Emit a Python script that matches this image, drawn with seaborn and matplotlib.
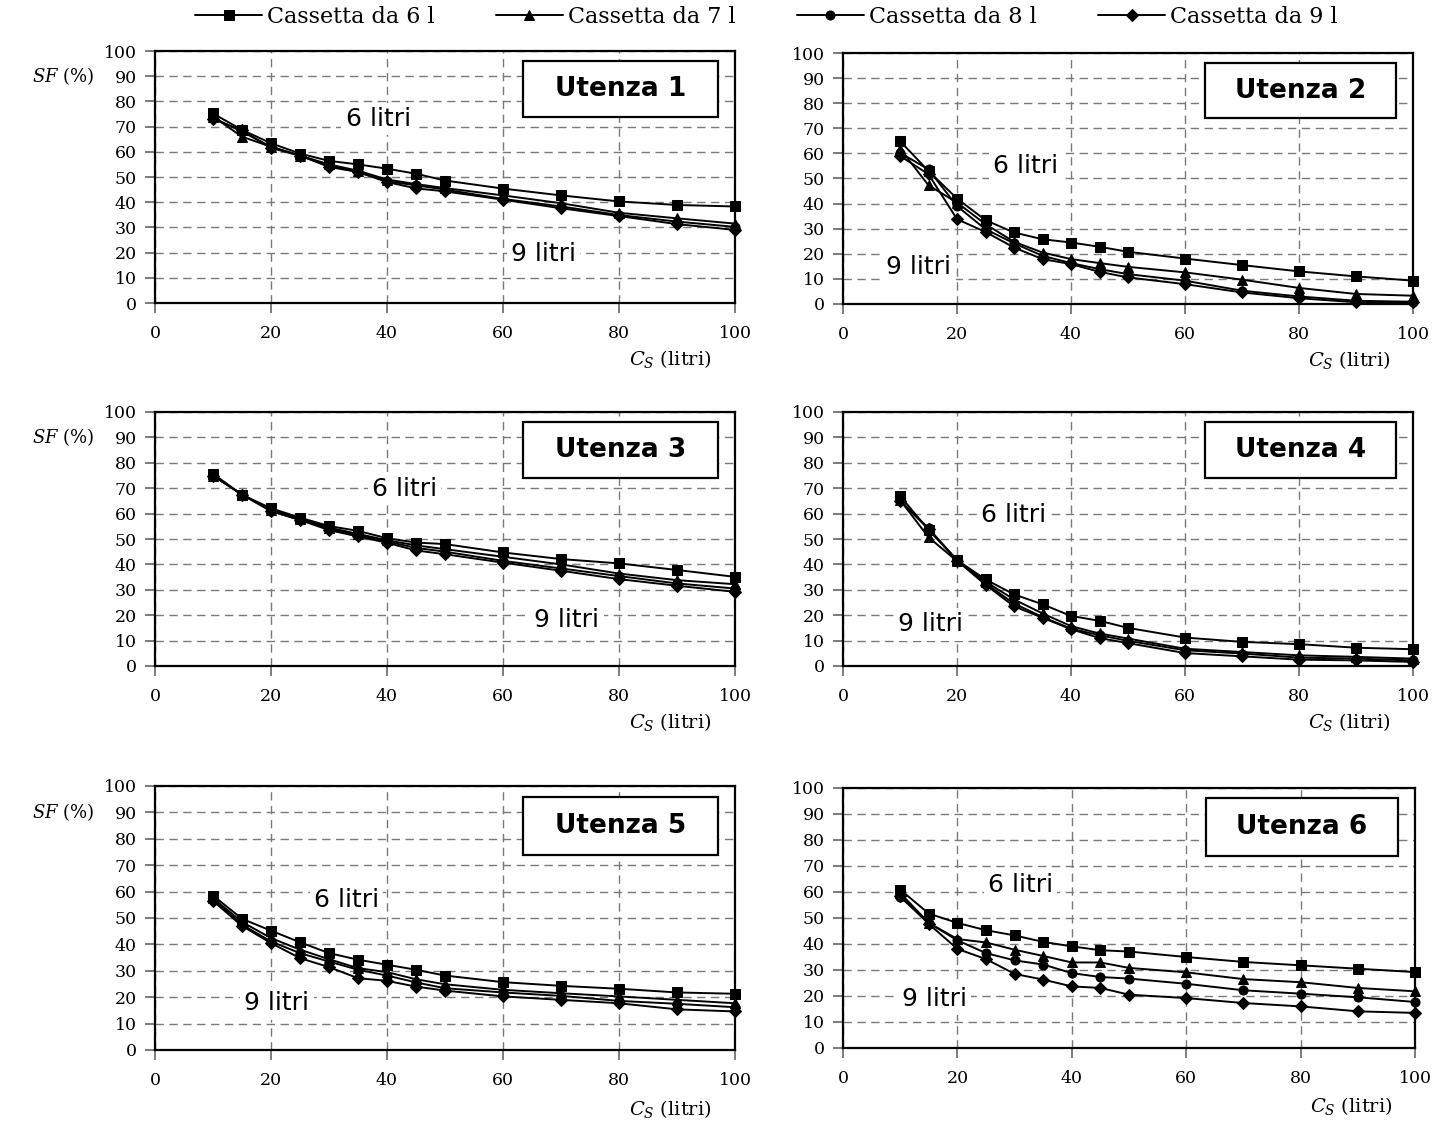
import matplotlib
matplotlib.use("Agg")
import matplotlib.pyplot as plt
import seaborn as sns
import pandas as pd
from matplotlib.patches import Rectangle

# ---------------- data ----------------
cs = [10, 15, 20, 25, 30, 35, 40, 45, 50, 60, 70, 80, 90, 100]
series_labels = ["Cassetta da 6 l", "Cassetta da 7 l", "Cassetta da 8 l", "Cassetta da 9 l"]
panel_titles = ["Utenza 1", "Utenza 2", "Utenza 3", "Utenza 4", "Utenza 5", "Utenza 6"]
x_ticks = [0, 20, 40, 60, 80, 100]
y_ticks = [0, 10, 20, 30, 40, 50, 60, 70, 80, 90, 100]

u1_6 = [75.2, 68.7, 63.4, 59.3, 56.4, 55.0, 53.3, 51.3, 48.6, 45.4, 42.7, 40.3, 38.9, 38.3]
u1_7 = [74.0, 66.0, 62.0, 58.5, 55.0, 52.5, 49.0, 47.2, 45.6, 42.7, 39.6, 35.8, 33.6, 31.5]
u1_8 = [73.5, 68.0, 62.0, 58.5, 54.5, 52.0, 48.3, 46.7, 45.0, 41.3, 38.3, 34.9, 32.3, 30.2]
u1_9 = [73.0, 68.5, 61.5, 58.5, 54.0, 52.0, 48.0, 45.5, 44.3, 41.0, 37.6, 34.5, 31.3, 29.0]

u2_6 = [64.9, 53.0, 42.0, 33.4, 28.5, 25.8, 24.5, 22.8, 20.8, 18.1, 15.5, 13.0, 11.0, 9.3]
u2_7 = [61.9, 47.3, 40.4, 31.8, 24.8, 20.5, 17.9, 16.3, 14.8, 12.6, 9.7, 6.4, 4.0, 3.3]
u2_8 = [60.3, 53.6, 39.0, 29.8, 24.2, 19.2, 16.3, 13.9, 11.9, 9.3, 5.3, 3.0, 1.3, 0.9]
u2_9 = [59.0, 51.7, 33.8, 28.7, 22.5, 17.9, 15.9, 12.8, 10.6, 7.9, 4.6, 2.3, 0.7, 0.7]

u3_6 = [75.7, 67.4, 62.1, 58.4, 55.1, 53.2, 50.3, 48.6, 48.0, 44.7, 42.1, 40.4, 37.8, 35.1]
u3_7 = [75.0, 67.5, 61.5, 58.0, 54.5, 52.0, 49.5, 47.5, 46.0, 43.0, 40.0, 36.4, 33.8, 32.2]
u3_8 = [75.0, 67.5, 61.0, 57.5, 54.0, 51.5, 49.0, 46.5, 45.0, 41.4, 38.4, 35.4, 32.5, 30.5]
u3_9 = [75.0, 67.5, 61.0, 57.5, 53.5, 51.0, 48.5, 45.5, 44.0, 40.7, 37.5, 34.2, 31.6, 29.2]

u4_6 = [67.0, 53.6, 41.7, 34.1, 28.2, 24.3, 19.7, 17.8, 15.0, 11.2, 9.5, 8.6, 7.2, 6.6]
u4_7 = [65.4, 50.7, 41.3, 33.2, 26.2, 20.7, 15.7, 12.8, 10.8, 6.8, 5.5, 4.2, 3.6, 2.9]
u4_8 = [65.1, 54.2, 41.7, 32.5, 24.6, 19.3, 14.7, 12.1, 9.9, 6.2, 4.9, 3.3, 2.9, 2.2]
u4_9 = [65.0, 54.0, 41.5, 32.0, 23.5, 19.0, 14.5, 11.0, 9.0, 5.1, 3.8, 2.5, 2.2, 1.6]

u5_6 = [58.5, 49.7, 45.2, 40.8, 36.7, 34.2, 32.3, 30.4, 28.2, 25.7, 24.3, 23.2, 21.8, 21.3]
u5_7 = [57.5, 48.5, 42.4, 38.0, 34.4, 31.0, 29.5, 26.8, 24.9, 22.8, 21.5, 20.3, 19.0, 17.7]
u5_8 = [57.0, 47.5, 41.1, 36.7, 33.5, 30.4, 28.2, 25.6, 23.4, 21.8, 20.5, 18.6, 17.5, 16.2]
u5_9 = [56.5, 47.0, 40.5, 34.8, 31.4, 27.2, 26.2, 24.0, 22.5, 20.3, 19.0, 17.7, 15.4, 14.6]

u6_6 = [60.9, 51.7, 48.1, 45.3, 43.3, 40.8, 39.1, 37.6, 37.1, 35.0, 33.1, 31.8, 30.5, 29.2]
u6_7 = [59.6, 48.1, 41.9, 40.6, 37.8, 35.4, 32.9, 32.9, 30.8, 29.1, 26.5, 25.3, 23.1, 21.8]
u6_8 = [58.1, 48.1, 41.4, 36.5, 33.7, 32.1, 28.8, 27.3, 26.7, 24.7, 22.2, 20.9, 19.5, 17.7]
u6_9 = [58.5, 47.7, 38.1, 34.2, 28.5, 26.3, 23.7, 23.1, 20.5, 19.2, 17.3, 16.0, 14.1, 13.5]

panels = [
    [u1_6, u1_7, u1_8, u1_9],
    [u2_6, u2_7, u2_8, u2_9],
    [u3_6, u3_7, u3_8, u3_9],
    [u4_6, u4_7, u4_8, u4_9],
    [u5_6, u5_7, u5_8, u5_9],
    [u6_6, u6_7, u6_8, u6_9],
]

# annotation positions (data coords) for "6 litri" / "9 litri"
lab6_pos = [(38.5, 73), (32, 55), (43, 69.6), (30, 59.5), (33, 57), (31, 62.8)]
lab9_pos = [(67, 19.5), (13.3, 14.6), (71, 18), (15.4, 16.4), (21, 17.7), (16, 18.8)]

# ---------------- style ----------------
sns.set_theme(style="white")
plt.rcParams["font.family"] = ["DejaVu Serif"]
plt.rcParams["mathtext.fontset"] = "dejavuserif"
plt.rcParams["text.color"] = "black"
plt.rcParams["axes.labelcolor"] = "black"
plt.rcParams["xtick.color"] = "black"
plt.rcParams["ytick.color"] = "black"

markers = ["s", "^", "o", "D"]
msizes = [6.5, 7.5, 6.5, 6.0]

W, H = 1441, 1128
fig = plt.figure(figsize=(W / 100, H / 100), dpi=100)

# axes boxes in pixels: (left, right, top, bottom)
boxes = [
    (155, 735, 51, 303), (843, 1413, 53, 304),
    (155, 735, 412, 666), (843, 1413, 412, 666),
    (155, 735, 786, 1050), (843, 1415, 788, 1048),
]

handles = None
for i, (l, r, t, b) in enumerate(boxes):
    ax = fig.add_axes([l / W, 1 - b / H, (r - l) / W, (b - t) / H])
    df = pd.DataFrame({"cs": cs})
    for j, ys in enumerate(panels[i]):
        df["sf"] = ys
        sns.lineplot(data=df, x="cs", y="sf", ax=ax, color="black",
                     marker=markers[j], markersize=msizes[j], markeredgecolor="black",
                     linewidth=1.4, label=series_labels[j], clip_on=False, zorder=3)
    if handles is None:
        handles, labels = ax.get_legend_handles_labels()
    ax.get_legend().remove()

    ax.set_xlim(0, 100)
    ax.set_ylim(0, 100)
    ax.set_xticks(x_ticks)
    ax.set_yticks(y_ticks)
    ax.set_xlabel("")
    ax.set_ylabel("")
    ax.grid(True, color="#7a7a7a", linestyle=(0, (6, 4)), linewidth=1.0)
    ax.set_axisbelow(True)
    for s in ax.spines.values():
        s.set_color("black")
        s.set_linewidth(1.6)
        s.set_visible(True)
    ax.tick_params(axis="both", direction="out", length=7, width=1.2, color="#666666",
                   labelsize=12.5, labelcolor="black", bottom=True, left=True)
    ax.tick_params(axis="x", pad=9)
    ax.tick_params(axis="y", pad=6)

    # x label
    ax.text(0.888, -0.222, r"$C_S$ (litri)", transform=ax.transAxes,
            ha="center", va="center", fontsize=14, color="black")
    if i % 2 == 0:
        ax.text(-0.105, 0.9, r"$SF$ (%)", transform=ax.transAxes,
                ha="right", va="center", fontsize=13, color="black")

    # "6 litri" / "9 litri"
    for (xx, yy), txt in [(lab6_pos[i], "6 litri"), (lab9_pos[i], "9 litri")]:
        ax.text(xx, yy, txt, ha="center", va="center", fontsize=18, color="black",
                family="DejaVu Sans", zorder=4,
                bbox=dict(facecolor="white", edgecolor="none", pad=3))

    # title box
    ax.add_patch(Rectangle((0.635, 0.74), 0.335, 0.22, transform=ax.transAxes,
                           facecolor="white", edgecolor="black", linewidth=1.6, zorder=5))
    ax.text(0.8025, 0.85, panel_titles[i], transform=ax.transAxes, ha="center",
            va="center", fontsize=19, fontweight="bold", family="DejaVu Sans",
            color="black", zorder=6)

fig.legend(handles, labels, loc="center", bbox_to_anchor=(0.532, 0.985), ncol=4,
           frameon=False, fontsize=16, handlelength=3.0, columnspacing=2.75,
           handletextpad=0.25, labelcolor="black")

fig.savefig("out.png", dpi=100)
